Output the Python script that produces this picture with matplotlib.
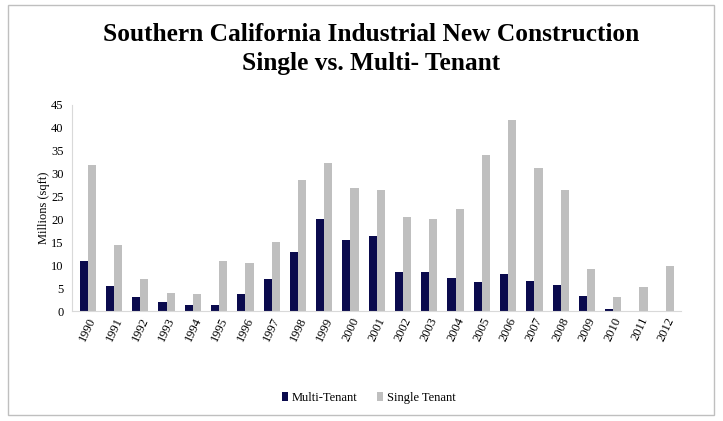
import numpy as np
import matplotlib.pyplot as plt
from matplotlib.patches import Rectangle

years = [str(y) for y in range(1990, 2013)]
multi_tenant = [11.0, 5.5, 3.0, 2.0, 1.3, 1.4, 3.8, 6.9, 12.8, 20.0, 15.5, 16.4,
                8.5, 8.6, 7.2, 6.4, 8.0, 6.5, 5.7, 3.4, 0.4, 0.0, 0.0]
single_tenant = [31.8, 14.4, 6.9, 4.0, 3.8, 10.9, 10.6, 15.0, 28.7, 32.3, 26.8, 26.4,
                 20.6, 20.2, 22.3, 34.0, 41.7, 31.3, 26.5, 9.2, 3.1, 5.3, 9.8]

plt.rcParams['font.family'] = ['Liberation Serif', 'DejaVu Serif']

fig = plt.figure(figsize=(7.23, 4.21), dpi=100)
ax = fig.add_axes([0.0996, 0.261, 0.843, 0.49])

# light frame round the whole chart
fig.patches.append(Rectangle((0.011, 0.014), 0.977, 0.975, transform=fig.transFigure,
                             fill=False, edgecolor='#bfbfbf', linewidth=1))

x = np.arange(len(years))
w = 0.31
ax.bar(x - w / 2, multi_tenant, width=w, color='#0a0a4d', label='Multi-Tenant')
ax.bar(x + w / 2, single_tenant, width=w, color='#bfbfbf', label='Single Tenant')

ax.set_xlim(-0.6, len(years) - 0.4)
ax.set_ylim(0, 45)
ax.set_yticks(range(0, 46, 5))
ax.set_xticks(x)
ax.set_xticklabels(years, rotation=65, ha='right', rotation_mode='anchor', fontsize=9)
ax.tick_params(axis='y', labelsize=9, length=0, pad=6)
ax.tick_params(axis='x', length=0, pad=3)

for s in ['top', 'right']:
    ax.spines[s].set_visible(False)
ax.spines['left'].set_color('#d9d9d9')
ax.spines['bottom'].set_color('#d9d9d9')

ax.set_ylabel('Millions (sqft)', fontsize=9, labelpad=1)

fig.text(0.513, 0.918, 'Southern California Industrial New Construction',
         ha='center', va='center', fontsize=18.3, fontweight='bold')
fig.text(0.513, 0.848, 'Single vs. Multi- Tenant',
         ha='center', va='center', fontsize=18.3, fontweight='bold')

fig.legend(loc='center', bbox_to_anchor=(0.51, 0.055), ncol=2, frameon=False,
           fontsize=9, handlelength=0.5, handleheight=0.7, columnspacing=1.5,
           handletextpad=0.3)

plt.savefig('out.png', dpi=100)
